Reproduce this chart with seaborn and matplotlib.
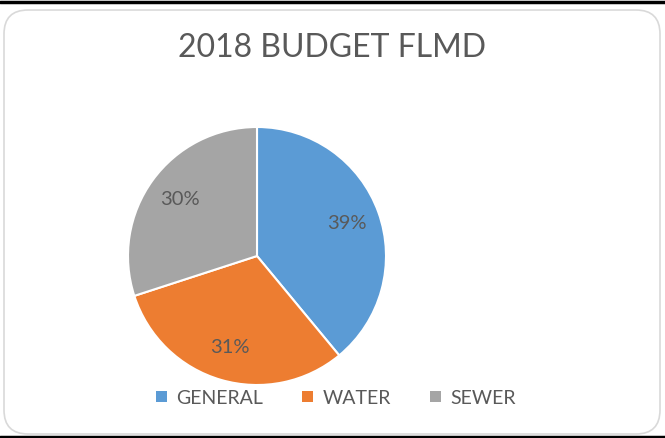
import matplotlib
matplotlib.use("Agg")
import matplotlib.pyplot as plt
import seaborn as sns
from matplotlib.patches import FancyBboxPatch, Patch

categories = ["GENERAL", "WATER", "SEWER"]
shares = [39, 31, 30]
colors = ["#5B9BD5", "#ED7D31", "#A5A5A5"]
title = "2018 BUDGET FLMD"

sns.set_theme(style="white")
plt.rcParams["font.family"] = ["Lato", "DejaVu Sans"]
text_color = "#595959"

fig = plt.figure(figsize=(6.65, 4.38), dpi=100)

# background layer in pixel units for the rounded chart frame
bg = fig.add_axes([0, 0, 1, 1])
bg.set_xlim(0, 665)
bg.set_ylim(438, 0)
bg.axis("off")
bg.add_patch(FancyBboxPatch((4, 10), 656, 424, boxstyle="round,pad=0,rounding_size=24",
                            fc="white", ec="#D9D9D9", lw=1.2))
bg.plot([0, 665], [2, 2], color="black", lw=2.5)
bg.plot([0, 665], [437, 437], color="black", lw=2.5)

# pie
ax = fig.add_axes([(257 - 129) / 665, (438 - 256 - 129) / 438, 258 / 665, 258 / 438])
wedges, texts, autotexts = ax.pie(
    shares, colors=colors, startangle=90, counterclock=False,
    autopct="%1.0f%%", pctdistance=0.74,
    wedgeprops=dict(edgecolor="white", linewidth=1.5),
    textprops=dict(color=text_color, fontsize=14.5),
)
ax.set_xlim(-1, 1)
ax.set_ylim(-1, 1)
ax.set_aspect("equal")
ax.axis("off")

fig.text(0.5, 1 - 48 / 438, title, ha="center", va="center", fontsize=23, color=text_color)

handles = [Patch(facecolor=c, edgecolor="none") for c in colors]
fig.legend(handles, categories, loc="center", bbox_to_anchor=(336 / 665, 1 - 398 / 438),
           ncol=3, frameon=False, fontsize=14, labelcolor=text_color,
           handlelength=0.55, handleheight=0.55, handletextpad=0.5, columnspacing=2.0)

fig.savefig("out.png", dpi=100)
